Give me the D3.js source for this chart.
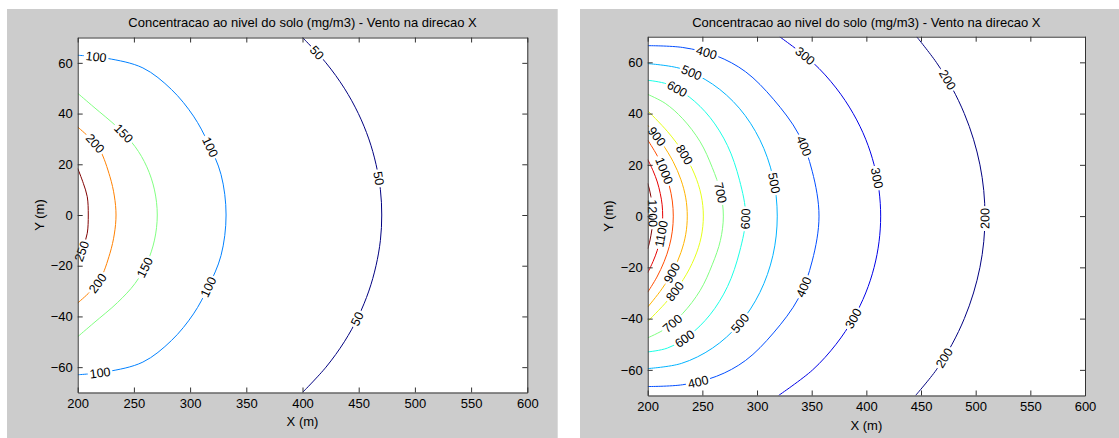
<!DOCTYPE html>
<html><head><meta charset="utf-8">
<script src="https://cdn.jsdelivr.net/npm/d3@7"></script>
<style>
body{margin:0;background:#fff;}
svg{display:block;font-family:"Liberation Sans",Arial,sans-serif;}
</style></head><body>
<svg id="c" width="1119" height="438"></svg>
<script>
// ---------- text & ticks ----------
const titleText = "Concentracao ao nivel do solo (mg/m3) - Vento na direcao X";
const xLabelText = "X (m)";
const yLabelText = "Y (m)";
const xTicks = [200, 250, 300, 350, 400, 450, 500, 550, 600];
const yTicks = [-60, -40, -20, 0, 20, 40, 60];
const xDomain = [200, 600];
const yDomain = [-70, 70];

// ---------- left chart: contour levels and contour lines [x, y] ----------
const levelsA = [50, 100, 150, 200, 250];
const a50  = [[400,70],[420.9,60],[437.2,50],[449.7,40],[459,30],[465.4,20],[469.3,10],[470.5,0],[469.3,-10],[465.4,-20],[459,-30],[449.7,-40],[437.2,-50],[420.9,-60],[400,-70]];
const a100 = [[200,63],[226,61.8],[258,58],[283.4,49.5],[303,39],[316,28.5],[327.5,16],[332,0],[327.5,-16],[316,-28.5],[303,-39],[283.4,-49.5],[258,-58],[226,-61.8],[200,-63]];
const a150 = [[200,48],[214.5,42.5],[235.5,34.5],[251,27],[261.5,19],[268.3,9.9],[270.8,0],[268.3,-9.9],[261.5,-19],[251,-27],[235.5,-34.5],[214.5,-42.5],[200,-48]];
const a200 = [[200,34.7],[210.9,30.3],[219.8,25.6],[228.7,15.1],[232.6,7.5],[234.1,0],[232.6,-7.5],[228.7,-15.1],[219.8,-25.6],[210.9,-30.3],[200,-34.7]];
const a250 = [[200,18.4],[205,12.5],[208.5,7.2],[209.4,0],[208.5,-7.2],[205,-12.5],[200,-18.4]];
// label anchors: [level, x, y]
const labelsA = [[50,412.6,63.8],[50,467.4,14.5],[50,451.2,-41.4],
  [100,216,61.5],[100,319,27],[100,319,-29],[100,220,-63],
  [150,243.6,33.5],[150,261.4,-21],[200,212.5,27],[200,218.3,-27],[250,205,-14.5]];

// ---------- right chart ----------
const levelsB = [200, 300, 400, 500, 600, 700, 800, 900, 1000, 1100, 1200];
const b200  = [[446,70],[464,60],[478.4,50],[489.6,40],[498,30],[503.9,20],[507.4,10],[508.5,0],[507.4,-10],[503.9,-20],[498,-30],[489.6,-40],[478.4,-50],[464,-60],[445,-70]];
const b300  = [[320.6,70],[350.9,60],[372.3,50],[388,40],[399.4,30],[407.1,20],[411.6,10],[413.1,0],[411.6,-10],[407.1,-20],[399.4,-30],[388,-40],[372.3,-50],[350.9,-60],[319.7,-70]];
const b400  = [[200,66.5],[232,65.8],[263,62.5],[289.6,56.3],[315,45.6],[338,32],[350.5,17.5],[356.7,0],[350.5,-17.5],[338,-32],[315,-45.6],[289.6,-56.3],[263,-62.5],[232,-65.8],[200,-66.5]];
const b500  = [[200,59.5],[230.7,57.5],[259.3,51.5],[283.8,42.1],[302.6,29.8],[314.5,15.4],[318.5,0],[314.5,-15.4],[302.6,-29.8],[283.8,-42.1],[259.3,-51.5],[230.7,-57.5],[200,-59.5]];
const b600  = [[200,53],[218,51.5],[238,46.5],[257,38.5],[273,27.5],[284,14],[289.6,0],[284,-14],[273,-27.5],[257,-38.5],[238,-46.5],[218,-51.5],[200,-53]];
const b700  = [[200,47.5],[216,44],[232,38],[248,29],[259,19],[266.5,9.5],[269.2,0],[266.5,-9.5],[259,-19],[248,-29],[232,-38],[216,-44],[200,-47.5]];
const b800  = [[200,41.1],[218.3,32.9],[232.6,24.7],[242.8,16.4],[248.9,8.2],[250.9,0],[248.9,-8.2],[242.8,-16.4],[232.6,-24.7],[218.3,-32.9],[200,-41.1]];
const b900  = [[200,35.5],[213,28.4],[223.2,21.3],[230.4,14.2],[234.8,7.1],[236.2,0],[234.8,-7.1],[230.4,-14.2],[223.2,-21.3],[213,-28.4],[200,-35.5]];
const b1000 = [[200,29.7],[208.4,23.8],[215,17.8],[219.7,11.9],[222.5,5.9],[223.4,0],[222.5,-5.9],[219.7,-11.9],[215,-17.8],[208.4,-23.8],[200,-29.7]];
const b1100 = [[200,22.1],[204.9,17.7],[208.8,13.3],[211.5,8.8],[213.2,4.4],[213.7,0],[213.2,-4.4],[211.5,-8.8],[208.8,-13.3],[204.9,-17.7],[200,-22.1]];
const b1200 = [[200,12.8],[201.7,10.2],[202.9,7.7],[203.9,5.1],[204.4,2.6],[204.6,0],[204.4,-2.6],[203.9,-5.1],[202.9,-7.7],[201.7,-10.2],[200,-12.8]];
const labelsB = [[200,473.5,53],[200,508.5,-1],[200,473.5,-56],
  [300,344.8,63],[300,408.8,14.7],[300,390.5,-40.6],
  [400,253.7,63.5],[400,344.8,27.7],[400,345.4,-28.2],[400,246.9,-66],
  [500,239,55],[500,313.4,12.8],[500,284.8,-41.8],
  [600,225.9,49],[600,289.6,-1],[600,234.1,-47.8],
  [700,264.6,8.9],[700,222.7,-41.9],
  [800,235.7,24.5],[800,229.2,-30.9],
  [900,208.2,31],[900,223.4,-22.4],
  [1000,212.8,17.3],[1100,211.3,-6.8],[1200,203.7,1]];

const contoursA = [a50, a100, a150, a200, a250];
const contoursB = [b200, b300, b400, b500, b600, b700, b800, b900, b1000, b1100, b1200];

// ---------- drawing ----------
function jet(t) {
  const c = v => Math.max(0, Math.min(1, v));
  return d3.rgb(255 * c(1.5 - Math.abs(4 * t - 3)), 255 * c(1.5 - Math.abs(4 * t - 2)), 255 * c(1.5 - Math.abs(4 * t - 1))).formatHex();
}

const svg = d3.select("#c");
const defs = svg.append("defs");

const panels = [
  {id: "A", bg: [7, 9, 557.7, 438], plot: [77.7, 37.5, 527.3, 392.5], levels: levelsA, contours: contoursA, labels: labelsA, xlabY: 421.7, ylabX: 39.3},
  {id: "B", bg: [580, 9, 1119, 438], plot: [647.7, 36.7, 1085, 395.5], levels: levelsB, contours: contoursB, labels: labelsB, xlabY: 425.5, ylabX: 608.3}
];

panels.forEach(p => {
  const [bx0, by0, bx1, by1] = p.bg;
  const [px0, py0, px1, py1] = p.plot;
  svg.append("rect").attr("x", bx0).attr("y", by0).attr("width", bx1 - bx0).attr("height", by1 - by0).attr("fill", "#cccccc");
  svg.append("rect").attr("x", px0).attr("y", py0).attr("width", px1 - px0).attr("height", py1 - py0).attr("fill", "#ffffff");

  const x = d3.scaleLinear().domain(xDomain).range([px0, px1]);
  const y = d3.scaleLinear().domain(yDomain).range([py1, py0]);

  defs.append("clipPath").attr("id", "clip" + p.id).append("rect")
    .attr("x", px0).attr("y", py0).attr("width", px1 - px0).attr("height", py1 - py0);

  const line = d3.line().x(d => x(d[0])).y(d => y(d[1])).curve(d3.curveCatmullRom.alpha(0.5));
  const lo = d3.min(p.levels), hi = d3.max(p.levels);
  const g = svg.append("g").attr("clip-path", `url(#clip${p.id})`);
  const tg = svg.append("g");

  p.contours.forEach((pts, i) => {
    const level = p.levels[i];
    const col = jet((level - lo) / (hi - lo));
    const maskId = `m${p.id}${i}`;
    const mask = defs.append("mask").attr("id", maskId).attr("maskUnits", "userSpaceOnUse")
      .attr("x", 0).attr("y", 0).attr("width", 1119).attr("height", 438);
    mask.append("rect").attr("x", 0).attr("y", 0).attr("width", 1119).attr("height", 438).attr("fill", "#fff");
    const path = g.append("path").attr("d", line(pts)).attr("fill", "none")
      .attr("stroke", col).attr("stroke-width", 1).attr("mask", `url(#${maskId})`);
    const node = path.node();
    const L = node.getTotalLength();
    const samples = d3.range(0, L + 0.5, 0.5).map(s => { const q = node.getPointAtLength(Math.min(s, L)); return [s, q.x, q.y]; });

    p.labels.filter(l => l[0] === level).forEach(l => {
      const ax = x(l[1]), ay = y(l[2]);
      let best = samples[0], bd = Infinity;
      samples.forEach(s => { const d = (s[1] - ax) ** 2 + (s[2] - ay) ** 2; if (d < bd) { bd = d; best = s; } });
      const s0 = node.getPointAtLength(Math.max(0, best[0] - 4));
      const s1 = node.getPointAtLength(Math.min(L, best[0] + 4));
      let ang = Math.atan2(s1.y - s0.y, s1.x - s0.x) * 180 / Math.PI;
      if (ang > 90) ang -= 180;
      if (ang <= -90) ang += 180;
      const t = tg.append("text").attr("transform", `translate(${best[1]},${best[2]}) rotate(${ang})`)
        .attr("text-anchor", "middle").attr("dy", "0.35em").attr("font-size", 12.5).attr("fill", "#000")
        .text(level);
      const w = t.node().getComputedTextLength() + 4;
      mask.append("rect").attr("x", -w / 2).attr("y", -6).attr("width", w).attr("height", 12)
        .attr("fill", "#000").attr("transform", `translate(${best[1]},${best[2]}) rotate(${ang})`);
    });
  });

  // axes
  const styleAxis = sel => {
    sel.selectAll("path").attr("stroke", "#333").attr("stroke-width", 1);
    sel.selectAll("line").attr("stroke", "#333");
    sel.selectAll("text").attr("fill", "#000").attr("font-size", 13).attr("font-family", '"Liberation Sans",Arial,sans-serif');
  };
  svg.append("g").attr("transform", `translate(0,${py1})`)
    .call(d3.axisBottom(x).tickValues(xTicks).tickSizeInner(-5).tickSizeOuter(0).tickPadding(6).tickFormat(d3.format("d"))).call(styleAxis);
  svg.append("g").attr("transform", `translate(0,${py0})`)
    .call(d3.axisTop(x).tickValues(xTicks).tickSizeInner(-5).tickSizeOuter(0).tickFormat("")).call(styleAxis);
  svg.append("g").attr("transform", `translate(${px0},0)`)
    .call(d3.axisLeft(y).tickValues(yTicks).tickSizeInner(-5).tickSizeOuter(0).tickPadding(5).tickFormat(d3.format("d"))).call(styleAxis);
  svg.append("g").attr("transform", `translate(${px1},0)`)
    .call(d3.axisRight(y).tickValues(yTicks).tickSizeInner(-5).tickSizeOuter(0).tickFormat("")).call(styleAxis);

  const cx = (px0 + px1) / 2, cy = (py0 + py1) / 2;
  svg.append("text").attr("x", cx).attr("y", 27).attr("text-anchor", "middle").attr("font-size", 13).attr("fill", "#000").text(titleText);
  svg.append("text").attr("x", cx).attr("y", p.xlabY).attr("dy", "0.35em").attr("text-anchor", "middle").attr("font-size", 13).attr("fill", "#000").text(xLabelText);
  svg.append("text").attr("transform", `translate(${p.ylabX},${cy}) rotate(-90)`).attr("dy", "0.35em").attr("text-anchor", "middle").attr("font-size", 13).attr("fill", "#000").text(yLabelText);
});
</script>
</body></html>
